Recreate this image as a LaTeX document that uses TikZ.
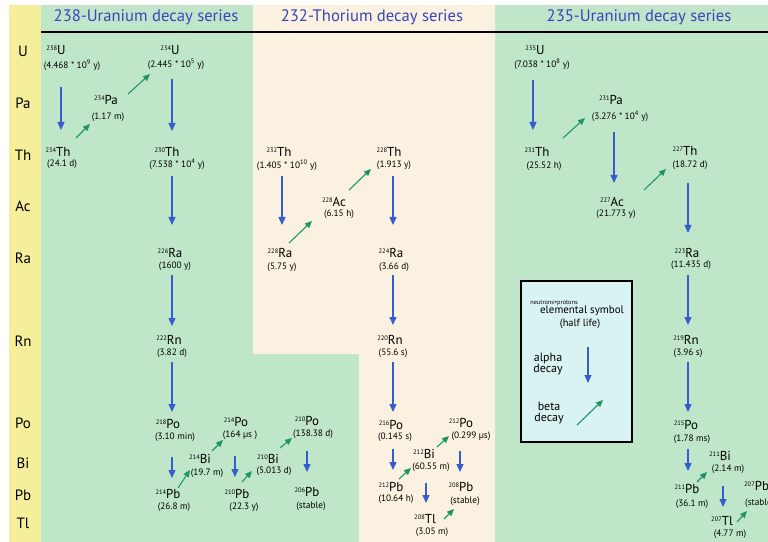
\documentclass[tikz,border=0pt]{standalone}
\usepackage{fontspec}
\setmainfont{PT Sans}
\usetikzlibrary{arrows.meta,calc}
\definecolor{bggreen}{RGB}{192,230,201}
\definecolor{bgbeige}{RGB}{250,241,225}
\definecolor{bgyellow}{RGB}{245,238,155}
\definecolor{legcyan}{RGB}{217,243,242}
\definecolor{titleblue}{RGB}{58,68,190}
\definecolor{alphablue}{RGB}{55,92,205}
\definecolor{betagreen}{RGB}{30,150,100}
\newcommand\mynuc[2]{\raisebox{4.3bp}{\fontsize{6.5}{7}\selectfont #1}#2}
\newcommand\isot[8]{\node[sym] (#1) at (#2,#3) {\mynuc{#4}{#5}};\node[hl] (#1h) at (#6,#7) {#8};}
\begin{document}
\begin{tikzpicture}[x=1bp,y=-1bp,
  sym/.style={inner sep=0pt, font=\fontsize{13}{14}\selectfont},
  hl/.style={inner sep=0pt, font=\fontsize{9.3}{11}\selectfont},
  el/.style={inner sep=0pt, font=\fontsize{15}{16}\selectfont},
  ttl/.style={inner sep=0pt, text=titleblue, font=\fontsize{16.7}{18}\selectfont},
  leg/.style={inner sep=0pt, font=\fontsize{12}{13}\selectfont, align=center},
  al/.style={draw=alphablue, line width=1.3bp, -{Triangle[width=7bp,length=8bp]}},
  be/.style={draw=betagreen, line width=1.1bp, -{Triangle[width=6bp,length=7bp]}}]
\useasboundingbox (0,0) rectangle (768,542);
\fill[white] (0,0) rectangle (768,542);
% backgrounds
\fill[bgyellow] (9,5) rectangle (41,542);
\fill[bggreen] (41,5) rectangle (768,542);
\fill[bgbeige] (253,5) -- (495,5) -- (495,542) -- (359,542) -- (359,354) -- (253,354) -- cycle;
\draw[line width=1.5bp] (41,32) -- (768,32);
% titles
\node[ttl] (t238) at (146,17) {238-Uranium decay series};
\node[ttl] (t232) at (372,17) {232-Thorium decay series};
\node[ttl] (t235) at (639,17) {235-Uranium decay series};
% element column
\node[el] (eU) at (23,51) {U};
\node[el] (ePa) at (23,103) {Pa};
\node[el] (eTh) at (23,155) {Th};
\node[el] (eAc) at (23,206) {Ac};
\node[el] (eRa) at (23,258) {Ra};
\node[el] (eRn) at (23,341) {Rn};
\node[el] (ePo) at (23,423) {Po};
\node[el] (eBi) at (23,463) {Bi};
\node[el] (ePb) at (23,495) {Pb};
\node[el] (eTl) at (23,523) {Tl};
% 238-U series
\isot{U238}{56}{50}{238}{U}{72}{65}{(4.468 * 10\textsuperscript{9} y)}
\isot{Th234}{58}{152}{234}{Th}{62}{164}{(24.1 d)}
\isot{Pa234}{106}{100}{234}{Pa}{108}{117}{(1.17 m)}
\isot{U234}{170}{50}{234}{U}{176}{64}{(2.445 * 10\textsuperscript{5} y)}
\isot{Th230}{167}{152}{230}{Th}{177}{164}{(7.538 * 10\textsuperscript{4} y)}
\isot{Ra226}{170}{253}{226}{Ra}{175}{266}{(1600 y)}
\isot{Rn222}{169}{340}{222}{Rn}{172}{353}{(3.82 d)}
\isot{Po218}{168}{424}{218}{Po}{175}{437}{(3.10 min)}
\isot{Po214}{236}{422}{214}{Po}{240}{435}{(164 µs )}
\isot{Bi214}{200}{459}{214}{Bi}{207}{473}{(19.7 m)}
\isot{Pb214}{168}{494}{214}{Pb}{174}{507}{(26.8 m)}
\isot{Pb210}{237}{494}{210}{Pb}{244}{507}{(22.3 y)}
\isot{Bi210}{268}{459}{210}{Bi}{274}{471}{(5.013 d)}
\isot{Po210}{307}{421}{210}{Po}{313}{434}{(138.38 d)}
\isot{Pb206}{307}{492}{206}{Pb}{311}{506}{(stable)}
% 232-Th series
\isot{Th232}{279}{152}{232}{Th}{287}{165}{(1.405 * 10\textsuperscript{10} y)}
\isot{Ra228}{280}{253}{228}{Ra}{282}{267}{(5.75 y)}
\isot{Ac228}{334}{202}{228}{Ac}{339}{214}{(6.15 h)}
\isot{Th228}{389}{152}{228}{Th}{394}{165}{(1.913 y)}
\isot{Ra224}{391}{253}{224}{Ra}{394}{267}{(3.66 d)}
\isot{Rn220}{390}{340}{220}{Rn}{393}{353}{(55.6 s)}
\isot{Po216}{391}{425}{216}{Po}{395}{437}{(0.145 s)}
\isot{Pb212}{391}{487}{212}{Pb}{396}{499}{(10.64 h)}
\isot{Bi212}{424}{454}{212}{Bi}{431}{467}{(60.55 m)}
\isot{Po212}{461}{423}{212}{Po}{471}{436}{(0.299 µs)}
\isot{Tl208}{425}{519}{208}{Tl}{432}{532}{(3.05 m)}
\isot{Pb208}{461}{487}{208}{Pb}{465}{501}{(stable)}
% 235-U series
\isot{U235}{535}{50}{235}{U}{542}{64}{(7.038 * 10\textsuperscript{8} y)}
\isot{Th231}{537}{152}{231}{Th}{544}{166}{(25.52 h)}
\isot{Pa231}{611}{100}{231}{Pa}{620}{116}{(3.276 * 10\textsuperscript{4} y)}
\isot{Ac227}{612}{202}{227}{Ac}{616}{214}{(21.773 y)}
\isot{Th227}{685}{151}{227}{Th}{690}{165}{(18.72 d)}
\isot{Ra223}{687}{253}{223}{Ra}{691}{265}{(11.435 d)}
\isot{Rn219}{686}{340}{219}{Rn}{688}{353}{(3.96 s)}
\isot{Po215}{686}{425}{215}{Po}{692}{439}{(1.78 ms)}
\isot{Pb211}{687}{489}{211}{Pb}{692}{504}{(36.1 m)}
\isot{Bi211}{720}{456}{211}{Bi}{728}{469}{(2.14 m)}
\isot{Tl207}{722}{521}{207}{Tl}{730}{534}{(4.77 m)}
\node[sym,anchor=west] (Pb207) at (744,486) {\mynuc{207}{Pb}};
\node[hl,anchor=west] (Pb207h) at (745,503) {(stable)};
% arrows 238-U
\draw[al] ($(U238h)+(61-72,87-65)$) -- ($(Th234)+(61-58,130-152)$);
\draw[be] ($(Th234)+(76-58,138-152)$) -- ($(Pa234h)+(90-108,124-117)$);
\draw[be] ($(Pa234)+(128-106,94-100)$) -- ($(U234h)+(150-176,74-64)$);
\draw[al] ($(U234h)+(172-176,79-64)$) -- ($(Th230)+(172-167,131-152)$);
\draw[al] ($(Th230h)+(172-177,176-164)$) -- ($(Ra226)+(172-170,225-253)$);
\draw[al] ($(Ra226h)+(172-175,275-266)$) -- ($(Rn222)+(172-169,326-340)$);
\draw[al] ($(Rn222h)+(172-172,362-353)$) -- ($(Po218)+(172-168,412-424)$);
\draw[al] ($(Po218h)+(172-175,457-437)$) -- ($(Pb214)+(172-168,478-494)$);
\draw[be] ($(Pb214)+(178-168,488-494)$) -- ($(Bi214h)+(190-207,470-473)$);
\draw[be] ($(Bi214)+(212-200,451-459)$) -- ($(Po214h)+(223-240,440-435)$);
\draw[al] ($(Po214h)+(235-240,456-435)$) -- ($(Pb210)+(235-237,477-494)$);
\draw[be] ($(Pb210)+(242-237,482-494)$) -- ($(Bi210h)+(252-274,471-471)$);
\draw[be] ($(Bi210)+(280-268,448-459)$) -- ($(Po210h)+(292-313,438-434)$);
\draw[al] ($(Po210h)+(307-313,451-434)$) -- ($(Pb206)+(307-307,472-492)$);
% arrows 232-Th
\draw[al] ($(Th232h)+(282-287,176-165)$) -- ($(Ra228)+(282-280,225-253)$);
\draw[be] ($(Ra228)+(289-280,243-253)$) -- ($(Ac228h)+(312-339,221-214)$);
\draw[be] ($(Ac228)+(349-334,190-202)$) -- ($(Th228h)+(371-394,169-165)$);
\draw[al] ($(Th228h)+(393-394,176-165)$) -- ($(Ra224)+(393-391,225-253)$);
\draw[al] ($(Ra224h)+(393-394,275-267)$) -- ($(Rn220)+(393-390,325-340)$);
\draw[al] ($(Rn220h)+(393-393,362-353)$) -- ($(Po216)+(393-391,412-425)$);
\draw[al] ($(Po216h)+(393-395,449-437)$) -- ($(Pb212)+(393-391,470-487)$);
\draw[be] ($(Pb212)+(399-391,479-487)$) -- ($(Bi212h)+(411-431,468-467)$);
\draw[be] ($(Bi212)+(437-424,447-454)$) -- ($(Po212h)+(449-471,436-436)$);
\draw[al] ($(Po212h)+(460-471,451-436)$) -- ($(Pb208)+(460-461,472-487)$);
\draw[al] ($(Bi212h)+(426-431,483-467)$) -- ($(Tl208)+(426-425,503-519)$);
\draw[be] ($(Tl208)+(444-425,519-519)$) -- ($(Pb208h)+(454-465,509-501)$);
% arrows 235-U
\draw[al] ($(U235h)+(533-542,80-64)$) -- ($(Th231)+(533-537,130-152)$);
\draw[be] ($(Th231)+(563-537,138-152)$) -- ($(Pa231h)+(585-620,118-116)$);
\draw[al] ($(Pa231h)+(614-620,132-116)$) -- ($(Ac227)+(614-612,183-202)$);
\draw[be] ($(Ac227)+(644-612,190-202)$) -- ($(Th227h)+(666-690,169-165)$);
\draw[al] ($(Th227h)+(688-690,183-165)$) -- ($(Ra223)+(688-687,233-253)$);
\draw[al] ($(Ra223h)+(688-691,275-265)$) -- ($(Rn219)+(688-686,325-340)$);
\draw[al] ($(Rn219h)+(688-688,362-353)$) -- ($(Po215)+(688-686,412-425)$);
\draw[al] ($(Po215h)+(688-692,449-439)$) -- ($(Pb211)+(688-687,471-489)$);
\draw[be] ($(Pb211)+(697-687,482-489)$) -- ($(Bi211h)+(707-728,472-469)$);
\draw[al] ($(Bi211h)+(723-728,486-469)$) -- ($(Tl207)+(723-722,507-521)$);
\draw[be] ($(Tl207)+(737-722,522-521)$) -- ($(Pb207h.west)+(747-745,511-503)$);
% legend
\draw[fill=legcyan, line width=1.2bp] (521,281) rectangle (632,442);
\node[inner sep=0pt, font=\fontsize{6.3}{7}\selectfont] (lnp) at (554,303) {neutrons+protons};
\node[inner sep=0pt, font=\fontsize{11}{12}\selectfont] (lsym) at (582,311) {elemental symbol};
\node[inner sep=0pt, font=\fontsize{10.5}{12}\selectfont] (lhl) at (580,324) {(half life)};
\node[leg] (lal) at (548,364) {alpha\\[-1.5bp]decay};
\node[leg] (lbe) at (549,413) {beta\\[-1.5bp]decay};
\draw[al] ($(lal)+(588-548,347-364)$) -- ($(lal)+(588-548,383-364)$);
\draw[be] ($(lbe)+(577-549,425-413)$) -- ($(lbe)+(603-549,400-413)$);
\end{tikzpicture}
\end{document}
